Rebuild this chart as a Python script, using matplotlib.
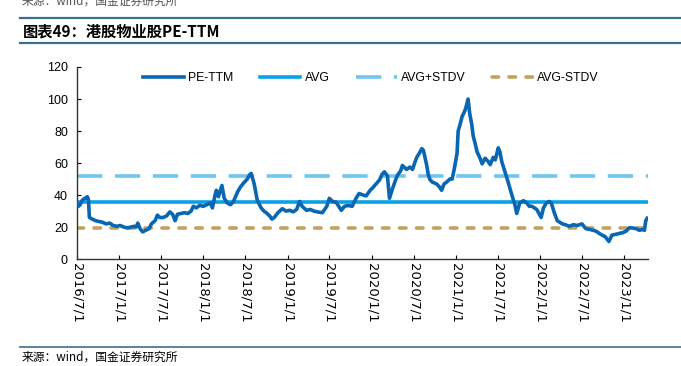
import matplotlib
matplotlib.use("Agg")
import matplotlib.pyplot as plt
import matplotlib.dates as mdates
from matplotlib.lines import Line2D
import pandas as pd

plt.rcParams['font.family'] = ['Liberation Sans', 'Noto Sans CJK SC', 'DejaVu Sans']

# PE-TTM (date, value)
dates = [
    "2016-07-01", "2016-07-08", "2016-07-15", "2016-07-25", "2016-08-05", "2016-08-15", "2016-08-20",
    "2016-08-24", "2016-09-05", "2016-09-20", "2016-10-05", "2016-10-20", "2016-11-05", "2016-11-20",
    "2016-12-05", "2016-12-20", "2017-01-05", "2017-01-20", "2017-02-05", "2017-02-20", "2017-03-05",
    "2017-03-15", "2017-03-22", "2017-04-01", "2017-04-12", "2017-04-25", "2017-05-10", "2017-05-20",
    "2017-06-05", "2017-06-15", "2017-06-25", "2017-07-10", "2017-07-25", "2017-08-08", "2017-08-20",
    "2017-08-31", "2017-09-10", "2017-09-25", "2017-10-10", "2017-10-25", "2017-11-08", "2017-11-18",
    "2017-12-01", "2017-12-15", "2018-01-01", "2018-01-15", "2018-01-31", "2018-02-09", "2018-02-20",
    "2018-02-26", "2018-03-07", "2018-03-22", "2018-04-01", "2018-04-15", "2018-04-28", "2018-05-11",
    "2018-05-29", "2018-06-10", "2018-06-24", "2018-07-10", "2018-07-22", "2018-07-27", "2018-08-09",
    "2018-08-22", "2018-09-08", "2018-09-20", "2018-09-30", "2018-10-15", "2018-10-25", "2018-11-04",
    "2018-11-20", "2018-12-09", "2018-12-25", "2019-01-10", "2019-01-25", "2019-02-09", "2019-02-22",
    "2019-03-05", "2019-03-24", "2019-04-10", "2019-04-25", "2019-05-10", "2019-06-01", "2019-06-20",
    "2019-07-01", "2019-07-15", "2019-07-31", "2019-08-15", "2019-08-22", "2019-09-05", "2019-09-20",
    "2019-10-08", "2019-10-25", "2019-11-07", "2019-11-25", "2019-12-08", "2019-12-25", "2020-01-05",
    "2020-01-20", "2020-02-04", "2020-02-15", "2020-02-25", "2020-03-09", "2020-03-18", "2020-03-31",
    "2020-04-15", "2020-04-22", "2020-05-05", "2020-05-13", "2020-05-31", "2020-06-15", "2020-06-26",
    "2020-07-05", "2020-07-14", "2020-07-25", "2020-08-05", "2020-08-12", "2020-08-26", "2020-09-02",
    "2020-09-10", "2020-09-21", "2020-10-08", "2020-10-21", "2020-10-30", "2020-11-10", "2020-11-20",
    "2020-12-05", "2020-12-15", "2020-12-25", "2021-01-05", "2021-01-10", "2021-01-18", "2021-01-27",
    "2021-02-09", "2021-02-15", "2021-02-22", "2021-03-01", "2021-03-10", "2021-03-16", "2021-03-25",
    "2021-04-02", "2021-04-15", "2021-04-24", "2021-05-07", "2021-05-20", "2021-05-29", "2021-06-11",
    "2021-06-20", "2021-07-03", "2021-07-10", "2021-07-18", "2021-07-31", "2021-08-13", "2021-08-25",
    "2021-08-31", "2021-09-13", "2021-09-21", "2021-10-04", "2021-10-20", "2021-11-04", "2021-11-15",
    "2021-11-26", "2021-12-17", "2022-01-05", "2022-01-15", "2022-01-27", "2022-02-10", "2022-02-18",
    "2022-03-03", "2022-03-16", "2022-04-07", "2022-04-20", "2022-05-07", "2022-05-25", "2022-06-10",
    "2022-07-01", "2022-07-18", "2022-08-05", "2022-08-31", "2022-09-15", "2022-09-26", "2022-10-10",
    "2022-10-26", "2022-11-08", "2022-11-25", "2022-12-08", "2022-12-25", "2023-01-09", "2023-01-22",
    "2023-02-05", "2023-02-22", "2023-03-07", "2023-03-20", "2023-03-29", "2023-04-04", "2023-04-10",
]
pe_ttm = [
    35, 33, 34, 37, 38, 39, 37,
    26, 25, 24, 23.5, 23, 22, 22.5,
    21, 20.5, 21, 20, 19.5, 20, 20.5,
    20, 22.5, 19, 17, 18, 19, 22,
    24, 27.5, 26, 26, 27, 29.5, 28,
    24, 28, 28.5, 29, 28.5, 30, 33,
    32, 33.5, 33, 34, 35, 32, 40,
    43, 39, 46, 38, 35, 34, 36,
    42, 45, 47.5, 50, 53, 53.5, 47,
    37, 32, 30, 29, 27, 25, 26,
    29, 31.5, 30, 30.5, 29.5, 31, 36,
    33, 30.5, 31, 30, 29.5, 29, 33,
    38, 36, 35.5, 32, 30.5, 33, 33.5,
    33, 38, 41, 40, 39.5, 43, 44.5,
    47, 49.5, 53, 54.5, 52, 38, 44,
    50, 52.5, 55, 58.5, 56, 57.5, 56,
    60, 63.5, 66, 69, 68, 59, 53,
    49.5, 48, 47, 45, 43, 47, 48,
    50, 50, 57, 66, 80, 84, 89,
    93, 96, 100, 91, 84, 77, 72,
    67, 63, 59.5, 63, 61, 59, 63.5,
    62, 69.5, 67, 61, 55, 49, 43,
    40, 34, 28.5, 35, 36.5, 35, 33,
    33, 31, 26, 32, 35, 36, 35,
    29, 24, 22, 21.5, 20.5, 21.5, 21,
    22, 19, 18.5, 17.5, 16, 15, 14,
    11, 15, 15.5, 16, 16.5, 17.5, 19.5,
    19.5, 19, 18, 18.5, 18, 24, 25.5,
]
avg = 35.8
stdv = 16.2
tick_dates = ["2016-07-01", "2017-01-01", "2017-07-01", "2018-01-01", "2018-07-01", "2019-01-01",
              "2019-07-01", "2020-01-01", "2020-07-01", "2021-01-01", "2021-07-01", "2022-01-01",
              "2022-07-01", "2023-01-01"]

x = pd.to_datetime(dates)
ticks = pd.to_datetime(tick_dates)

fig = plt.figure(figsize=(6.81, 3.66), dpi=100)
ax = fig.add_axes([0.113, 0.292, 0.838, 0.525])

c_pe = "#0866b3"
c_avg = "#0aa2e6"
c_up = "#6fc6f3"
c_dn = "#c2a261"
up_dash = (7, 3.5)
dn_dash = (1.8, 2.9)

ax.axhline(avg, color=c_avg, lw=2.6, zorder=2)
ax.axhline(avg + stdv, color=c_up, lw=2.6, dashes=up_dash, zorder=2)
ax.axhline(avg - stdv, color=c_dn, lw=2.6, dashes=dn_dash, dash_capstyle='round', zorder=2)
ax.plot(x, pe_ttm, color=c_pe, lw=2.6, solid_joinstyle='round', zorder=3)

ax.set_xlim(pd.Timestamp("2016-07-01"), pd.Timestamp("2023-04-12"))
ax.set_ylim(0, 120)
ax.set_yticks(range(0, 121, 20))
ax.set_xticks(ticks)
ax.xaxis.set_major_formatter(mdates.DateFormatter("%Y/%-m/%-d"))
ax.tick_params(axis='x', direction='in', length=3, labelsize=9.5, rotation=270, pad=3)
ax.tick_params(axis='y', direction='in', length=3, labelsize=9, pad=6.5)
for lbl in ax.get_xticklabels():
    lbl.set_family('DejaVu Sans')
for s in ["top", "right"]:
    ax.spines[s].set_visible(False)
for s in ["left", "bottom"]:
    ax.spines[s].set_color("#333333")
    ax.spines[s].set_linewidth(1.0)

handles = [
    Line2D([], [], color=c_pe, lw=2.6),
    Line2D([], [], color=c_avg, lw=2.6),
    Line2D([], [], color=c_up, lw=2.6, dashes=up_dash),
    Line2D([], [], color=c_dn, lw=2.6, dashes=dn_dash, dash_capstyle='round'),
]
ax.legend(handles, ["PE-TTM", "AVG", "AVG+STDV", "AVG-STDV"], ncol=4, frameon=False,
          loc="upper center", bbox_to_anchor=(0.515, 1.03), fontsize=8.8,
          handlelength=3.3, columnspacing=2.2, handletextpad=0.35)

# header and footer
line_c = "#3d6f8e"
fig.add_artist(Line2D([0.03, 1.0], [1 - 17.5 / 366] * 2, color=line_c, lw=1.6))
fig.add_artist(Line2D([0.03, 1.0], [1 - 43 / 366] * 2, color=line_c, lw=1.6))
fig.add_artist(Line2D([0.03, 1.0], [1 - 347 / 366] * 2, color=line_c, lw=1.2))
fig.text(0.033, 1 - 31 / 366, "图表49：港股物业股PE-TTM", fontsize=11, fontweight='bold',
         style='italic', va='center', family=['Noto Sans CJK SC', 'DejaVu Sans'])
fig.text(0.032, 1 - 357 / 366, "来源：wind，国金证券研究所", fontsize=8.5, va='center',
         family=['Noto Sans CJK SC', 'DejaVu Sans'])
fig.text(0.032, 0.998, "来源：wind，国金证券研究所", fontsize=8.5, va='center', color="#555555",
         family=['Noto Sans CJK SC', 'DejaVu Sans'])

fig.savefig("out.png", dpi=100)
